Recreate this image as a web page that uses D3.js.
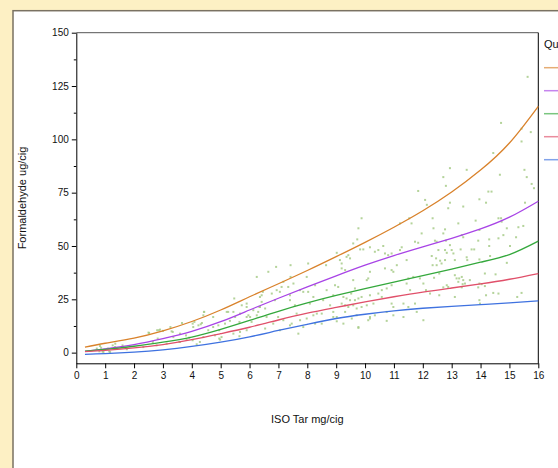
<!DOCTYPE html>
<html>
<head>
<meta charset="utf-8">
<script src="https://cdn.jsdelivr.net/npm/d3@7"></script>
<style>
  html, body { margin: 0; padding: 0; background: #fdf0c4; overflow: hidden; }
  svg { display: block; font-family: "Liberation Sans", Arial, sans-serif; }
</style>
</head>
<body>
<script>
var tarGrid = [0.3, 1, 2, 3, 4, 5, 6, 7, 8, 9, 10, 11, 12, 13, 14, 15, 16];

// fitted quantile curves (formaldehyde ug/cig)
var q90 = [2.6, 4.4, 6.8, 10.2, 14.6, 20, 26.2, 32.3, 38.5, 45, 51.7, 58.8, 66.5, 75.3, 85.6, 98.3, 115.5];
var q75 = [0.6, 1.8, 3.8, 6.6, 10.0, 14.5, 20, 25.5, 30.8, 36, 41, 45.5, 49.6, 53.6, 58, 63.5, 71];
var q50 = [0.7, 1.5, 3.0, 4.9, 7.3, 10.9, 15.1, 19.4, 23.3, 26.8, 30, 33.1, 36.1, 39.2, 42.4, 46.0, 52.3];
var q25 = [0.5, 1.1, 2.2, 3.8, 6.1, 8.9, 11.9, 15.3, 18.5, 21.2, 23.8, 26.2, 28.4, 30.3, 32.2, 34.4, 37.1];
var q10 = [-0.8, -0.5, 0.2, 1.3, 2.9, 4.9, 7.4, 10.4, 13.3, 16.0, 18.0, 19.6, 20.8, 21.7, 22.5, 23.3, 24.3];

var quantileNames = ["0.9", "0.75", "0.5", "0.25", "0.1"];
var quantileColors = ["#d9822b", "#a844e6", "#34a83c", "#e0506a", "#3f72e0"];

var xTicks = d3.range(0, 17);
var yTicks = [0, 25, 50, 75, 100, 125, 150];
var yMinorTicks = [12.5, 37.5, 62.5, 87.5, 112.5, 137.5];

// observations [tar, formaldehyde]
var observations = [
  [0.71,1.9],[0.86,2.3],[0.97,1.4],[1.09,1.9],[0.8,0.6],[0.91,0.5],[1.14,0.6],[1.26,3.4],[1.35,4.2],[1.6,3.4],
  [2.5,9.4],[2.8,10.5],[2.9,10.8],[3.0,10.2],[3.26,12],[3.34,9.7],[3.66,13.9],[2.82,6.6],[2.65,5],[4.03,13.6],
  [4.09,14.4],[4.23,12.8],[4.35,13.9],[4.43,19.1],[3.8,8.1],[3.91,7.0],[4.03,5.8],[3.57,5],
  [5.44,8.9],[5.03,7.3],[5.67,9.7],[4.74,12],[4.92,12.8],[5.15,13.6],[5.32,14.9],[5.5,16.7],[5.67,18.3],[5.96,17.5],
  [6.13,19.9],[6.3,19.1],[6.36,21.4],[5.44,19.1],[5.9,23],[5.26,19.1],[4.8,8.1],[4.4,17.5],[4.57,10.5],[4.98,6.1],
  [4.31,13.3],[4.05,12],[3.59,8.9],[3.3,10],[2.86,10.5],[2.52,9.2],[3.36,7.3],[3.82,6.1],[4.28,5],[4.4,7.3],
  [4.17,3.9],[3.59,5],[3.13,4.2],[2.78,3.4],[2.32,2.6],[1.75,1.6],[1.34,2.6],[0.82,3.1],[1.17,0.3],[0.94,0.3],
  [4.42,19.1],[4.74,16.7],[4.95,10.5],[4.95,6.6],[5.21,19.1],[5.47,25.4],[5.65,14.4],[5.73,22.2],[5.9,21.4],[5.9,16.7],
  [6.02,16.7],[5.9,10.5],[5.65,7.7],[6.07,14.4],[6.25,35.5],[6.36,26.1],[6.42,26.9],[6.46,28.5],[6.42,23.8],[6.34,21.4],
  [6.25,17.5],[6.54,20.7],[6.59,16.7],[6.54,11.3],[6.65,37.9],[6.77,27.7],[6.88,24.6],[6.92,40.2],[6.94,29.3],[7.05,28.5],
  [7.11,30.8],[7.17,33.2],[6.99,16.7],[7.17,15.2],[6.82,13.6],[7.05,10.5],[7.34,30.8],[7.4,26.9],[7.4,24.6],[7.42,41],
  [7.42,35.5],[7.52,32.4],[7.57,22.2],[7.63,18.3],[7.75,15.2],[7.46,13.6],[7.75,29.3],[7.86,28.5],[8.03,41.8],[7.98,35.5],
  [8.03,28.5],[8.09,23],[7.98,16],[7.69,8.9],[8.27,31.6],[8.21,26.1],[8.33,18.3],[8.27,13.6],
  [7.4,12.8],[7.86,12],[8.21,17.5],[8.9,16.7],[9.77,11.6],[10.17,16],[12.02,15.2],[11.5,21.4],
  [11.84,75.8],[12.08,71.6],[12.14,69.3],[11.53,63],[11.61,60.6],[11.21,60.6],[9.88,63],[9.77,58.3],[9.73,53.1],[9.59,51.2],
  [9.02,46.8],[9.13,43.4],[9.19,41.8],[9.36,44.9],[9.42,45.7],[9.48,44.2],[9.31,38.7],[9.19,39.5],[8.65,41],[9.83,48.4],
  [9.94,48.4],[10.17,49.4],[10.34,47.3],[10.46,48.1],[10.63,50],[10.69,46.5],[10.8,45.7],[10.92,46.5],[11.27,49.4],[11.44,43.4],
  [11.73,52],[11.84,51.5],[11.96,55.9],[10.69,39.5],[10.92,38.7],[10.98,37.9],[11.1,41],[10.17,37.9],[10.11,34.8],[10.06,34],
  [9.59,34],[8.96,31.6],[9.07,30.8],[8.67,29.3],[8.9,26.9],[9.52,27.7],[9.65,30.1],[10.58,29.3],[10.75,30.1],[11.44,32.4],
  [11.56,29.3],[11.9,34.8],[12.02,32.4],[12.11,29.3],[10.92,31.6],[9.25,26.1],[9.36,25.4],[9.48,24.6],[9.65,24.6],[9.77,25.4],
  [9.88,26.1],[10.17,26.9],[10.46,27.7],[10.58,26.1],[9.31,22.2],[9.19,23],[9.42,21.4],[9.59,22.2],[9.71,20.7],[9.88,21.4],
  [10.06,22.2],[10.29,23],[10.92,23],[10.98,21.4],[11.33,23],[11.73,23],[8.79,22.2],[8.55,24.6],[8.5,18.3],[8.9,19.1],
  [9.02,16.7],[9.31,19.1],[9.54,16],[9.71,17.5],[10.17,16.7],[10.34,17.5],[10.75,19.1],[10.98,17.5],[11.33,16.7],[11.79,19.1],
  [8.5,13.6],[9.02,14.7],[9.25,13.6],[9.77,12],[10.11,15.2],[10.75,14.9],[11.5,34.8],[11.67,35.5],[11.21,48.1],
  [14.44,93.6],[12.94,86.5],[13.52,85.7],[12.71,82.3],[12.8,78.2],[14.67,83.4],[15.6,82.3],[15.52,85.7],[15.77,79.1],[15.85,77.1],
  [14.27,75.5],[14.38,75.5],[13.96,71.9],[14.19,70.3],[12.94,70.3],[12.88,67.7],[13.4,68.5],[15.54,70.3],[12.34,63],[12.37,58.3],
  [12.77,57.8],[12.71,55.9],[13.23,60.6],[13.83,61.9],[13.96,57.5],[14.62,63],[14.71,63],[14.73,61.4],[14.91,58.3],[15.31,58.8],
  [15.48,59.4],[13.35,55.1],[13.4,54.1],[12.42,52.5],[12.48,52],[12.8,52.5],[12.94,50.4],[14.3,53.1],[14.62,53.6],[14.79,55.1],
  [15.23,54.1],[13.92,52.5],[12.54,48.1],[12.77,48.1],[13.0,48.1],[13.06,46.5],[12.83,46.8],[13.31,48.4],[13.69,48.4],[13.78,48.4],
  [14.3,50],[15.02,50],[12.31,45.3],[12.46,44.2],[12.6,43.1],[12.77,43.4],[13.11,43.4],[13.52,44.7],[13.54,43.4],[13.96,43.7],
  [14.33,45.3],[14.91,42.1],[12.34,41],[12.48,41],[12.65,41.8],[12.57,37.1],[12.39,35.1],[13.11,36.3],[13.17,34.8],[13.26,34.8],
  [13.35,35.5],[13.4,34],[13.63,34],[13.23,33.2],[14.15,37.1],[14.52,36.7],[12.83,31.6],[12.88,30.8],[12.71,30.6],[13.35,30.6],
  [13.38,32.1],[13.46,32.4],[13.96,32.4],[13.92,30.6],[14.04,32.1],[14.15,31.2],[12.25,27.7],[12.57,26.9],[13.11,26.1],[14.19,26.9],
  [14.44,28],[14.62,27.7],[15.27,26.1],[15.42,28],[13.96,24.6],[13.98,23],
  [15.63,129.3],[14.71,107.7],[15.42,105],[15.74,103.4],[15.42,99]
];

var width = 558, height = 468;

var svg = d3.select("body").append("svg")
  .attr("width", width)
  .attr("height", height);

// beige page with the white chart panel
svg.append("rect")
  .attr("width", width).attr("height", height)
  .attr("fill", "#fdf0c4");

svg.append("rect")
  .attr("x", 13).attr("y", 10.7)
  .attr("width", 700).attr("height", 600)
  .attr("fill", "#ffffff")
  .attr("stroke", "#7a7262")
  .attr("stroke-width", 1.5);

var x = d3.scaleLinear().domain([0, 16]).range([76.3, 538.3]);
var y = d3.scaleLinear().domain([-5, 150]).range([363.3, 32.7]);

// frame top + right
svg.append("line")
  .attr("x1", x(0)).attr("x2", x(16))
  .attr("y1", y(150)).attr("y2", y(150))
  .attr("stroke", "#555").attr("stroke-width", 1);
svg.append("line")
  .attr("x1", x(16)).attr("x2", x(16))
  .attr("y1", y(150)).attr("y2", y(-5))
  .attr("stroke", "#000").attr("stroke-width", 1);

// x axis
svg.append("g")
  .attr("transform", "translate(0," + y(-5) + ")")
  .call(d3.axisBottom(x).tickValues(xTicks).tickFormat(d3.format("d"))
    .tickSize(5).tickSizeOuter(0).tickPadding(4));

// y axis + minor ticks
svg.append("g")
  .attr("transform", "translate(" + x(0) + ",0)")
  .call(d3.axisLeft(y).tickValues(yTicks).tickSize(4.5).tickSizeOuter(0).tickPadding(3));

svg.append("g")
  .attr("transform", "translate(" + x(0) + ",0)")
  .call(d3.axisLeft(y).tickValues(yMinorTicks).tickSize(2.5).tickFormat(""))
  .select(".domain").remove();

svg.selectAll(".tick text")
  .attr("font-family", "'Liberation Sans', Arial, sans-serif")
  .attr("font-size", "10px")
  .attr("fill", "#111");
svg.selectAll(".domain, .tick line").attr("stroke", "#000");

// axis titles
svg.append("text")
  .attr("x", (x(0) + x(16)) / 2)
  .attr("y", 423)
  .attr("text-anchor", "middle")
  .attr("font-size", "11px")
  .attr("fill", "#111")
  .text("ISO Tar mg/cig");

svg.append("text")
  .attr("transform", "translate(26," + (y(-5) + y(150)) / 2 + ") rotate(-90)")
  .attr("text-anchor", "middle")
  .attr("font-size", "11px")
  .attr("fill", "#111")
  .text("Formaldehyde ug/cig");

// scatter
svg.append("g").selectAll("rect")
  .data(observations)
  .enter()
  .append("rect")
  .attr("x", function (d) { return x(d[0]) - 1; })
  .attr("y", function (d) { return y(d[1]) - 1; })
  .attr("width", 2)
  .attr("height", 2)
  .attr("fill", "#a7cb88")
  .attr("opacity", 0.85);

// quantile curves
var curves = [q90, q75, q50, q25, q10];
var line = d3.line()
  .x(function (d, i) { return x(tarGrid[i]); })
  .y(function (d) { return y(d); })
  .curve(d3.curveNatural);

svg.append("g").selectAll("path")
  .data(curves)
  .enter()
  .append("path")
  .attr("d", line)
  .attr("fill", "none")
  .attr("stroke", function (d, i) { return quantileColors[i]; })
  .attr("stroke-width", 1.3);

// legend (runs off the right edge, as in the original)
var legend = svg.append("g").attr("transform", "translate(544,0)");
legend.append("text")
  .attr("x", 0).attr("y", 48)
  .attr("font-size", "11px")
  .attr("fill", "#111")
  .text("Quantile");

quantileNames.forEach(function (name, i) {
  var ly = 67.7 + i * 23;
  legend.append("line")
    .attr("x1", 0).attr("x2", 20)
    .attr("y1", ly).attr("y2", ly)
    .attr("stroke", quantileColors[i])
    .attr("stroke-width", 1.5)
    .attr("opacity", 0.65);
});
</script>
</body>
</html>
